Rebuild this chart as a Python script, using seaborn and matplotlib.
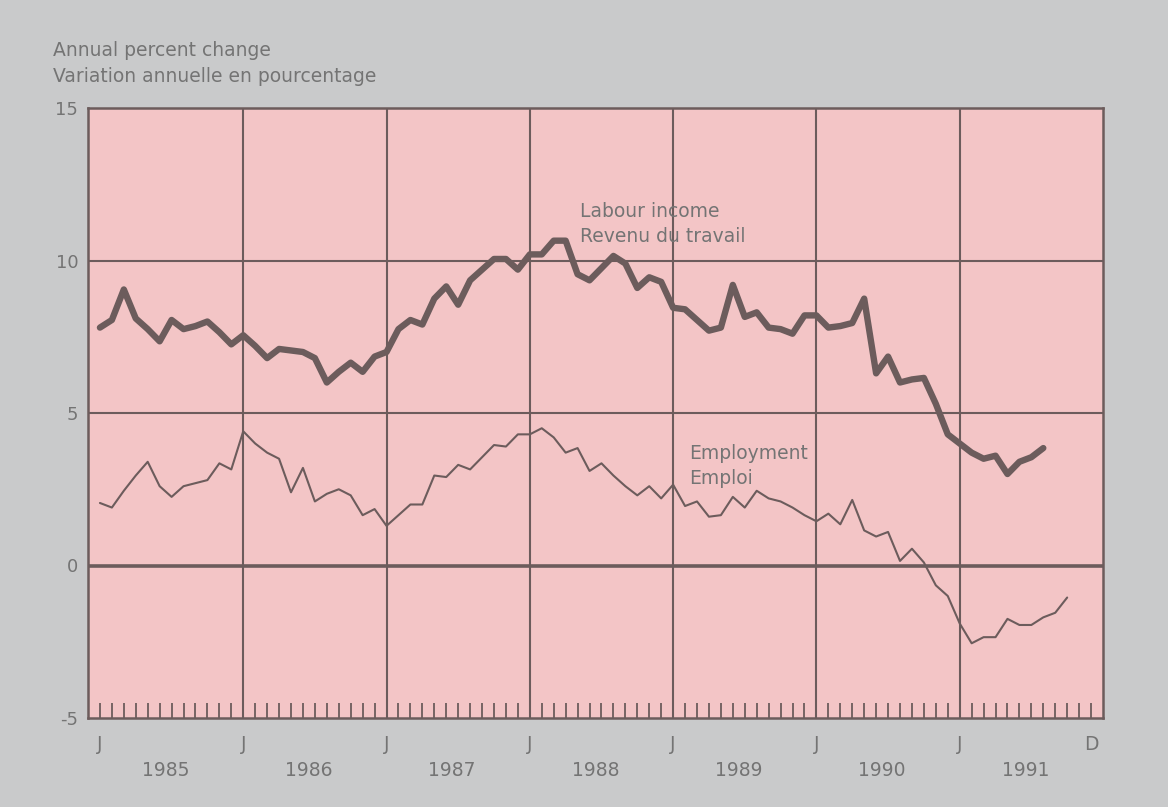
import numpy as np
import pandas as pd
import seaborn as sns
import matplotlib.pyplot as plt
import matplotlib.transforms as mtransforms

# monthly annual % change, Jan 1985 onward
labour_income = [
    7.8, 8.05, 9.05, 8.1, 7.75, 7.35, 8.05, 7.75, 7.85, 8.0, 7.65, 7.25,      # 1985
    7.55, 7.2, 6.8, 7.1, 7.05, 7.0, 6.8, 6.0, 6.35, 6.65, 6.35, 6.85,         # 1986
    7.0, 7.75, 8.05, 7.9, 8.75, 9.15, 8.55, 9.35, 9.7, 10.05, 10.05, 9.7,     # 1987
    10.2, 10.2, 10.65, 10.65, 9.55, 9.35, 9.75, 10.15, 9.9, 9.1, 9.45, 9.3,   # 1988
    8.45, 8.4, 8.05, 7.7, 7.8, 9.2, 8.15, 8.3, 7.8, 7.75, 7.6, 8.2,           # 1989
    8.2, 7.8, 7.85, 7.95, 8.75, 6.3, 6.85, 6.0, 6.1, 6.15, 5.3, 4.3,          # 1990
    4.0, 3.7, 3.5, 3.6, 3.0, 3.4, 3.55, 3.85,                                 # 1991
]
employment = [
    2.05, 1.9, 2.45, 2.95, 3.4, 2.6, 2.25, 2.6, 2.7, 2.8, 3.35, 3.15,         # 1985
    4.4, 4.0, 3.7, 3.5, 2.4, 3.2, 2.1, 2.35, 2.5, 2.3, 1.65, 1.85,            # 1986
    1.3, 1.65, 2.0, 2.0, 2.95, 2.9, 3.3, 3.15, 3.55, 3.95, 3.9, 4.3,          # 1987
    4.3, 4.5, 4.2, 3.7, 3.85, 3.1, 3.35, 2.95, 2.6, 2.3, 2.6, 2.2,            # 1988
    2.65, 1.95, 2.1, 1.6, 1.65, 2.25, 1.9, 2.45, 2.2, 2.1, 1.9, 1.65,         # 1989
    1.45, 1.7, 1.35, 2.15, 1.15, 0.95, 1.1, 0.15, 0.55, 0.1, -0.65, -1.0,     # 1990
    -1.9, -2.55, -2.35, -2.35, -1.75, -1.95, -1.95, -1.7, -1.55, -1.05,       # 1991
]
years = ["1985", "1986", "1987", "1988", "1989", "1990", "1991"]
y_ticks = [-5, 0, 5, 10, 15]

BG = "#c9cacb"
PINK = "#f3c5c6"
INK = "#6c5c5c"
TXT = "#747474"
FS = 13.5

df = pd.concat([
    pd.DataFrame({"month": np.arange(len(labour_income)), "value": labour_income, "series": "labour"}),
    pd.DataFrame({"month": np.arange(len(employment)), "value": employment, "series": "employment"}),
])

sns.set_theme(style="white")
plt.rcParams["font.family"] = ["DejaVu Sans"]

fig = plt.figure(figsize=(11.68, 8.07), dpi=100, facecolor=BG)
ax = fig.add_axes([88 / 1168, 1 - 718 / 807, (1103 - 88) / 1168, (718 - 108) / 807])
ax.set_facecolor(PINK)

sns.lineplot(data=df[df.series == "labour"], x="month", y="value", ax=ax,
             color=INK, linewidth=4.6, legend=False)
sns.lineplot(data=df[df.series == "employment"], x="month", y="value", ax=ax,
             color=INK, linewidth=1.5, legend=False)

n_months = 12 * len(years)
ax.set_xlim(-1, n_months)
ax.set_ylim(-5, 15)

# grid: yearly verticals, 5-unit horizontals, heavier zero line
for m in range(12, n_months, 12):
    ax.axvline(m, color=INK, lw=1.5, zorder=1)
for v in (5, 10):
    ax.axhline(v, color=INK, lw=1.5, zorder=1)
ax.axhline(0, color=INK, lw=2.6, zorder=1)

for s in ax.spines.values():
    s.set_color(INK)
    s.set_linewidth(1.8)

ax.set_yticks(y_ticks)
ax.set_yticklabels([str(t) for t in y_ticks], color=TXT, fontsize=FS - 0.5)
ax.tick_params(axis="y", length=0, pad=7)

ax.set_xticks([])
ax.set_xticks([m for m in range(n_months) if m % 12 != 0 or m == 0], minor=True)
ax.tick_params(axis="x", which="minor", direction="in", length=11, width=1.3,
               color=INK, bottom=True)
ax.set_xlabel("")
ax.set_ylabel("")

tr = mtransforms.blended_transform_factory(ax.transData, fig.transFigure)
for i, yr in enumerate(years):
    ax.text(12 * i, 1 - 745 / 807, "J", transform=tr, ha="center", va="center",
            color=TXT, fontsize=FS)
    ax.text(12 * i + 5.5, 1 - 771 / 807, yr, transform=tr, ha="center", va="center",
            color=TXT, fontsize=FS)
ax.text(n_months - 1, 1 - 745 / 807, "D", transform=tr, ha="center", va="center",
        color=TXT, fontsize=FS)

fig.text(53 / 1168, 1 - 51 / 807, "Annual percent change", color=TXT, fontsize=FS, va="center")
fig.text(53 / 1168, 1 - 76 / 807, "Variation annuelle en pourcentage", color=TXT, fontsize=FS, va="center")

ax.text(40.2, 11.6, "Labour income", color=TXT, fontsize=FS, va="center")
ax.text(40.2, 10.8, "Revenu du travail", color=TXT, fontsize=FS, va="center")
ax.text(49.3, 3.66, "Employment", color=TXT, fontsize=FS, va="center")
ax.text(49.3, 2.84, "Emploi", color=TXT, fontsize=FS, va="center")

fig.savefig("out.png", dpi=100, facecolor=BG)
